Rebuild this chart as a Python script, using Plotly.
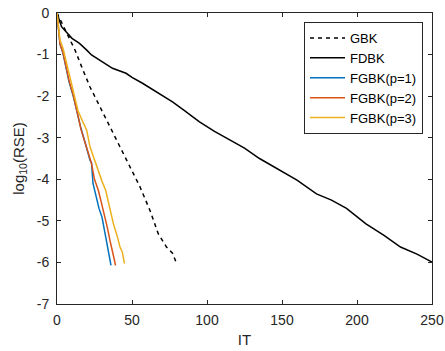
import plotly.graph_objects as go

# GBK (dashed black)
gbk_x = [0, 2.4, 6.4, 12, 16.4, 22, 28.7, 35.3, 42, 48.7, 55.3, 62, 67.5, 73, 77, 80]
gbk_y = [0, -0.17, -0.49, -0.89, -1.29, -1.78, -2.26, -2.74, -3.22, -3.70, -4.18, -4.75, -5.31, -5.63, -5.78, -6.05]

# FDBK (solid black)
fdbk_x = [0, 3, 10, 15, 20, 23, 30, 37, 46, 50, 57, 66, 77, 85, 95, 105, 115, 125, 135, 145,
          160, 173, 183, 193, 206, 218, 229, 240, 250]
fdbk_y = [0, -0.33, -0.61, -0.73, -0.90, -1.01, -1.17, -1.33, -1.45, -1.55, -1.69, -1.90, -2.14,
          -2.35, -2.62, -2.85, -3.06, -3.25, -3.50, -3.70, -4.02, -4.35, -4.50, -4.70, -5.07,
          -5.35, -5.63, -5.80, -5.99]

# FGBK(p=1)
p1_x = [0, 1, 2, 4, 6, 8, 11, 14, 16, 19, 22, 23, 24, 26, 28, 30, 33, 36]
p1_y = [0, -0.45, -0.75, -0.97, -1.30, -1.65, -2.02, -2.50, -2.78, -3.15, -3.54, -3.60, -4.10, -4.40, -4.70, -4.91, -5.50, -6.07]

# FGBK(p=2)
p2_x = [0, 1, 2, 4, 6, 8, 11, 14, 16, 19, 21, 23, 25, 27.6, 29.5, 31.6, 33.5, 35.3, 37, 38, 39]
p2_y = [0, -0.45, -0.75, -0.95, -1.30, -1.62, -2.00, -2.50, -2.80, -3.15, -3.40, -3.62, -4.00, -4.27, -4.55, -4.83, -5.15, -5.47, -5.70, -5.90, -6.07]

# FGBK(p=3)
p3_x = [0, 1, 2, 4, 6, 8, 11, 14, 17, 19.8, 22, 25, 27.6, 30, 32.5, 35, 37.6, 40, 42, 43.5, 45]
p3_y = [0, -0.40, -0.65, -0.85, -1.15, -1.50, -1.95, -2.35, -2.60, -2.82, -3.22, -3.55, -3.78, -4.05, -4.27, -4.70, -5.07, -5.35, -5.63, -5.75, -6.03]

x_ticks = [0, 50, 100, 150, 200, 250]
y_ticks = [0, -1, -2, -3, -4, -5, -6, -7]

fig = go.Figure()
fig.add_trace(go.Scatter(x=gbk_x, y=gbk_y, mode="lines", name="GBK",
                         line=dict(color="black", width=1.5, dash="4px,4px")))
fig.add_trace(go.Scatter(x=fdbk_x, y=fdbk_y, mode="lines", name="FDBK",
                         line=dict(color="black", width=1.5)))
fig.add_trace(go.Scatter(x=p1_x, y=p1_y, mode="lines", name="FGBK(p=1)",
                         line=dict(color="#0072BD", width=1.5)))
fig.add_trace(go.Scatter(x=p2_x, y=p2_y, mode="lines", name="FGBK(p=2)",
                         line=dict(color="#D95319", width=1.5)))
fig.add_trace(go.Scatter(x=p3_x, y=p3_y, mode="lines", name="FGBK(p=3)",
                         line=dict(color="#EDB120", width=1.5)))

axis_common = dict(showgrid=False, zeroline=False, showline=True, linecolor="#262626",
                   linewidth=1, mirror="ticks", ticks="inside", ticklen=4,
                   tickcolor="#262626", tickfont=dict(size=14, color="#262626"),
                   automargin=False)

fig.update_xaxes(range=[0, 250], tickvals=x_ticks, ticktext=[str(v) for v in x_ticks],
                 ticklabelstandoff=3,
                 title=dict(text="IT", font=dict(size=15, color="#262626"), standoff=7),
                 **axis_common)
fig.update_yaxes(range=[-7, 0], tickvals=y_ticks, ticktext=[str(v) for v in y_ticks],
                 ticklabelstandoff=4,
                 title=dict(text="log<sub>10</sub>(RSE)", font=dict(size=15, color="#262626"), standoff=8),
                 **axis_common)

fig.update_layout(
    width=445, height=351,
    margin=dict(l=57, r=13, t=13, b=47),
    paper_bgcolor="white", plot_bgcolor="white",
    font=dict(family="Liberation Sans, Arial, sans-serif", color="#262626"),
    showlegend=True,
    legend=dict(x=0.976, y=0.969, xanchor="right", yanchor="top",
                bgcolor="white", bordercolor="#262626", borderwidth=1,
                font=dict(size=13, color="black"), tracegroupgap=0,
                itemwidth=35),
)

fig.write_html("out.html", config={"displayModeBar": False},
               post_script="document.body.style.margin='0px';document.body.style.overflow='hidden';")
